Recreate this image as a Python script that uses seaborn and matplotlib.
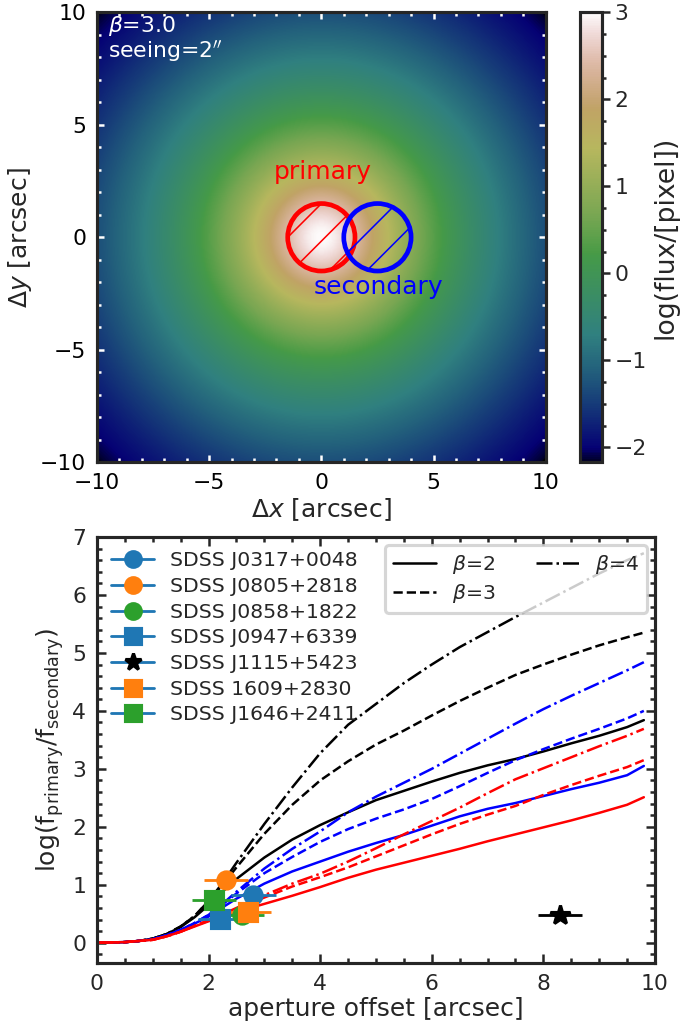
import numpy as np
import pandas as pd
import matplotlib
matplotlib.use("Agg")
import matplotlib.pyplot as plt
import seaborn as sns
from matplotlib.patches import Circle
from matplotlib.lines import Line2D
from matplotlib.ticker import MultipleLocator

# ---------------- data ----------------
# model image parameters (top panel)
BETA = 3.0
SEEING = 2.0          # FWHM in arcsec
PEAK_LOG = 3.0        # log flux at centre
PRIMARY_CENTER = (0.0, 0.0)
SECONDARY_CENTER = (2.5, 0.0)
APERTURE_RADIUS = 1.5

# curves (bottom panel)
offset = [0, 0.5, 0.75, 1, 1.25, 1.5, 1.75, 2, 2.25, 2.5, 3, 3.5, 4, 4.5, 5, 5.5, 6, 6.5, 7, 7.5, 8, 8.5, 9, 9.5, 9.8]
black_b2 = [0, .01, .03, .07, .15, .27, .44, .65, .88, 1.10, 1.47, 1.78, 2.03, 2.25, 2.46, 2.62, 2.78, 2.93, 3.06, 3.17, 3.30, 3.44, 3.57, 3.72, 3.84]
black_b3 = [0, .01, .03, .07, .15, .28, .46, .72, 1.00, 1.30, 1.88, 2.38, 2.80, 3.13, 3.42, 3.66, 3.92, 4.17, 4.40, 4.62, 4.80, 4.97, 5.13, 5.27, 5.35]
black_b4 = [0, .01, .03, .07, .15, .28, .46, .72, 1.03, 1.38, 2.05, 2.68, 3.27, 3.76, 4.12, 4.48, 4.80, 5.10, 5.36, 5.62, 5.87, 6.12, 6.37, 6.60, 6.72]
blue_b2 = [0, .01, .03, .06, .13, .22, .33, .45, .61, .76, 1.02, 1.23, 1.40, 1.57, 1.72, 1.86, 2.02, 2.18, 2.31, 2.41, 2.53, 2.65, 2.76, 2.89, 3.05]
blue_b3 = [0, .01, .03, .06, .13, .22, .34, .48, .66, .85, 1.20, 1.48, 1.74, 1.96, 2.14, 2.30, 2.48, 2.70, 2.93, 3.15, 3.34, 3.52, 3.69, 3.87, 4.00]
blue_b4 = [0, .01, .03, .06, .13, .22, .34, .48, .67, .88, 1.28, 1.62, 1.92, 2.25, 2.52, 2.76, 3.00, 3.26, 3.52, 3.78, 4.03, 4.26, 4.48, 4.70, 4.84]
red_b2 = [0, .01, .03, .05, .11, .19, .28, .37, .45, .53, .67, .81, .96, 1.12, 1.26, 1.38, 1.50, 1.62, 1.75, 1.87, 1.99, 2.11, 2.24, 2.38, 2.51]
red_b3 = [0, .01, .03, .05, .11, .19, .29, .38, .48, .58, .78, .97, 1.13, 1.30, 1.49, 1.68, 1.87, 2.05, 2.21, 2.36, 2.55, 2.72, 2.88, 3.03, 3.15]
red_b4 = [0, .01, .03, .05, .11, .19, .29, .39, .49, .60, .82, 1.02, 1.19, 1.40, 1.63, 1.87, 2.10, 2.33, 2.58, 2.82, 3.01, 3.20, 3.39, 3.57, 3.69]

# measured objects
obj_names = ["SDSS J0317+0048", "SDSS J0805+2818", "SDSS J0858+1822", "SDSS J0947+6339",
             "SDSS J1115+5423", "SDSS 1609+2830", "SDSS J1646+2411"]
obj_x = [2.80, 2.31, 2.60, 2.21, 8.30, 2.71, 2.10]
obj_y = [0.82, 1.08, 0.47, 0.41, 0.48, 0.53, 0.73]
obj_xerr = [0.4, 0.4, 0.4, 0.4, 0.4, 0.4, 0.4]
obj_colors = ["C0", "C1", "C2", "C0", "k", "C1", "C2"]
obj_markers = ["o", "o", "o", "s", "*", "s", "s"]

beta_labels = [r"$\beta$=2", r"$\beta$=3", r"$\beta$=4"]

# ---------------- style ----------------
sns.set_style("ticks")
plt.rcParams["font.family"] = ["DejaVu Sans"]
plt.rcParams["mathtext.fontset"] = "dejavusans"
plt.rcParams["font.size"] = 7
plt.rcParams["hatch.linewidth"] = 0.5
plt.rcParams["axes.linewidth"] = 1.0

DPI = 225
fig = plt.figure(figsize=(683 / DPI, 1025 / DPI), dpi=DPI)

# ---------------- top panel ----------------
ax1 = fig.add_axes([0.142, 0.549, 0.657, 0.439])
grid = np.linspace(-10, 10, 401)
gx, gy = np.meshgrid(grid, grid)
rr = np.hypot(gx, gy)
alpha = SEEING / (2 * np.sqrt(2 ** (1 / BETA) - 1))
img = PEAK_LOG - BETA * np.log10(1 + (rr / alpha) ** 2)
im = ax1.imshow(img, origin="lower", extent=[-10, 10, -10, 10], cmap="gist_earth",
                vmin=img.min(), vmax=PEAK_LOG, interpolation="bilinear", aspect="auto")
ax1.set_xlim(-10, 10)
ax1.set_ylim(-10, 10)
ax1.xaxis.set_major_locator(MultipleLocator(5))
ax1.yaxis.set_major_locator(MultipleLocator(5))
ax1.xaxis.set_minor_locator(MultipleLocator(1))
ax1.yaxis.set_minor_locator(MultipleLocator(1))
ax1.tick_params(which="both", direction="in", top=True, right=True, color="white",
                labelcolor="black", labelsize=7)
ax1.tick_params(which="major", length=2.3, width=0.8)
ax1.tick_params(which="minor", length=1.2, width=0.8)
ax1.set_xlabel(r"$\Delta x$ [arcsec]", fontsize=8, labelpad=1)
ax1.set_ylabel(r"$\Delta y$ [arcsec]", fontsize=8, labelpad=2)

c1 = Circle(PRIMARY_CENTER, APERTURE_RADIUS, fill=False, edgecolor="red", lw=1.5, hatch="//")
c2 = Circle(SECONDARY_CENTER, APERTURE_RADIUS, fill=False, edgecolor="blue", lw=1.5, hatch="//")
ax1.add_patch(c1)
ax1.add_patch(c2)
ax1.text(0.05, 2.9, "primary", color="red", fontsize=8, ha="center", va="center")
ax1.text(2.55, -2.2, "secondary", color="blue", fontsize=8, ha="center", va="center")
ax1.text(0.025, 0.970, r"$\beta$=3.0", color="white", fontsize=7, ha="left", va="center",
         transform=ax1.transAxes)
ax1.text(0.025, 0.914, r"seeing=2$''$", color="white", fontsize=7, ha="left", va="center",
         transform=ax1.transAxes)

cax = fig.add_axes([0.849, 0.549, 0.032, 0.439])
cb = fig.colorbar(im, cax=cax)
cb.set_ticks([-2, -1, 0, 1, 2, 3])
cb.ax.yaxis.set_minor_locator(MultipleLocator(0.25))
cb.ax.tick_params(which="major", length=2.5, width=0.8, labelsize=7, pad=1.5)
cb.ax.tick_params(which="minor", length=1.3, width=0.8)
cb.outline.set_linewidth(1.0)
cb.set_label("log(flux/[pixel])", fontsize=8.5, labelpad=2)

# ---------------- bottom panel ----------------
ax2 = fig.add_axes([0.142, 0.0605, 0.817, 0.4156])
curve_sets = [("black", black_b2, "-"), ("black", black_b3, "--"), ("black", black_b4, "-."),
              ("blue", blue_b2, "-"), ("blue", blue_b3, "--"), ("blue", blue_b4, "-."),
              ("red", red_b2, "-"), ("red", red_b3, "--"), ("red", red_b4, "-.")]
for col, vals, ls in curve_sets:
    df = pd.DataFrame({"offset": offset, "ratio": vals})
    sns.lineplot(data=df, x="offset", y="ratio", color=col, linestyle=ls, lw=0.8,
                 ax=ax2, estimator=None, sort=False, legend=False)

for xv, yv, xe, col, mk in zip(obj_x, obj_y, obj_xerr, obj_colors, obj_markers):
    ms = 6.5 if mk == "*" else 5.5
    ax2.errorbar([xv], [yv], xerr=[xe], fmt=mk, color=col, mfc=col, mec=col, ms=ms,
                 elinewidth=0.9, capsize=0, zorder=5)

ax2.set_xlim(0, 10)
ax2.set_ylim(-0.35, 7)
ax2.xaxis.set_major_locator(MultipleLocator(2))
ax2.xaxis.set_minor_locator(MultipleLocator(0.5))
ax2.yaxis.set_major_locator(MultipleLocator(1))
ax2.yaxis.set_minor_locator(MultipleLocator(0.2))
ax2.tick_params(which="both", direction="in", top=True, right=True, labelsize=7)
ax2.tick_params(which="major", length=3.0, width=0.8)
ax2.tick_params(which="minor", length=1.5, width=0.8)
ax2.set_xlabel("aperture offset [arcsec]", fontsize=8, labelpad=1)
ax2.set_ylabel(r"log(f$_{\rm primary}$/f$_{\rm secondary}$)", fontsize=8, labelpad=2)

obj_handles = []
for col, mk in zip(obj_colors, obj_markers):
    ms = 5.5 if mk == "*" else 5
    obj_handles.append(Line2D([0], [0], color="C0", lw=0.9, marker=mk, mfc=col, mec=col, ms=ms))
leg1 = ax2.legend(obj_handles, obj_names, loc="upper left", frameon=False, fontsize=6.5,
                  labelspacing=0.33, handlelength=2.1, borderaxespad=0.3)
ax2.add_artist(leg1)

beta_handles = [Line2D([0], [0], color="k", lw=0.8, ls="-"),
                Line2D([0], [0], color="k", lw=0.8, ls="--"),
                Line2D([0], [0], color="k", lw=0.8, ls="-.")]
ax2.legend(beta_handles, beta_labels, loc="upper right", ncol=2, fontsize=6.5,
           labelspacing=0.3, handlelength=2.1, borderaxespad=0.4)

fig.savefig("out.png", dpi=DPI)
